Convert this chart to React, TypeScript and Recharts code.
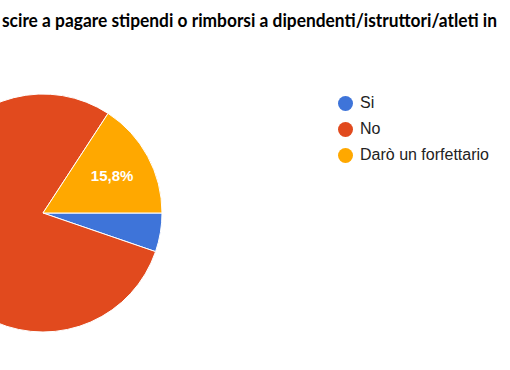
import { PieChart, Pie, Cell, Legend } from 'recharts'

const TITLE = 'scire a pagare stipendi o rimborsi a dipendenti/istruttori/atleti in'

const answers = ['Si', 'No', 'Darò un forfettario']
const responses = [1, 15, 3]
const sliceColors = ['#3E74D9', '#E14A1E', '#FFA800']

const data = answers.map((name, i) => ({ name, value: responses[i] }))

const renderLabel = ({ cx, cy, midAngle, outerRadius, percent }: any) => {
  if (percent < 0.1) return null
  const RADIAN = Math.PI / 180
  const r = outerRadius * 0.66
  const x = cx + r * Math.cos(-midAngle * RADIAN)
  const y = cy + r * Math.sin(-midAngle * RADIAN)
  // the big slice's label falls outside the cropped picture
  if (x < 20) return null
  return (
    <text
      x={x}
      y={y}
      fill="#ffffff"
      textAnchor="middle"
      dominantBaseline="central"
      fontSize={15}
      fontWeight={700}
      fontFamily="'Liberation Sans', Arial, sans-serif"
    >
      {`${(percent * 100).toFixed(1).replace('.', ',')}%`}
    </text>
  )
}

const LegendList = () => (
  <div style={{ fontFamily: "'Liberation Sans', Arial, sans-serif", fontSize: 16, color: '#222' }}>
    {answers.map((a, i) => (
      <div key={a} style={{ display: 'flex', alignItems: 'center', height: 26 }}>
        <span
          style={{
            width: 15,
            height: 15,
            borderRadius: '50%',
            backgroundColor: sliceColors[i],
            marginRight: 7,
            display: 'inline-block',
          }}
        />
        <span>{a}</span>
      </div>
    ))}
  </div>
)

export default function App() {
  return (
    <div style={{ position: 'relative', width: 510, height: 370, background: '#fff', overflow: 'hidden' }}>
      <style>{'body{margin:0}'}</style>
      <svg width={510} height={40} style={{ position: 'absolute', left: 0, top: 0 }}>
        <text
          x={2}
          y={27}
          fontFamily="Lato, 'Open Sans', sans-serif"
          fontWeight={700}
          fontSize={18}
          fill="#000"
          textLength={495}
          lengthAdjust="spacingAndGlyphs"
        >
          {TITLE}
        </text>
      </svg>
      <PieChart
        width={510}
        height={370}
        margin={{ top: 0, right: 0, bottom: 0, left: 0 }}
        style={{ position: 'absolute', left: 0, top: 0 }}
      >
        <Pie
          data={data}
          dataKey="value"
          nameKey="name"
          cx={43}
          cy={213}
          outerRadius={119}
          startAngle={0}
          endAngle={-360}
          stroke="#ffffff"
          strokeWidth={1}
          labelLine={false}
          label={renderLabel}
          isAnimationActive={false}
        >
          {data.map((d, i) => (
            <Cell key={d.name} fill={sliceColors[i]} />
          ))}
        </Pie>
        <Legend
          layout="vertical"
          content={<LegendList />}
          wrapperStyle={{ position: 'absolute', left: 338, top: 90, width: 170 }}
        />
      </PieChart>
    </div>
  )
}
